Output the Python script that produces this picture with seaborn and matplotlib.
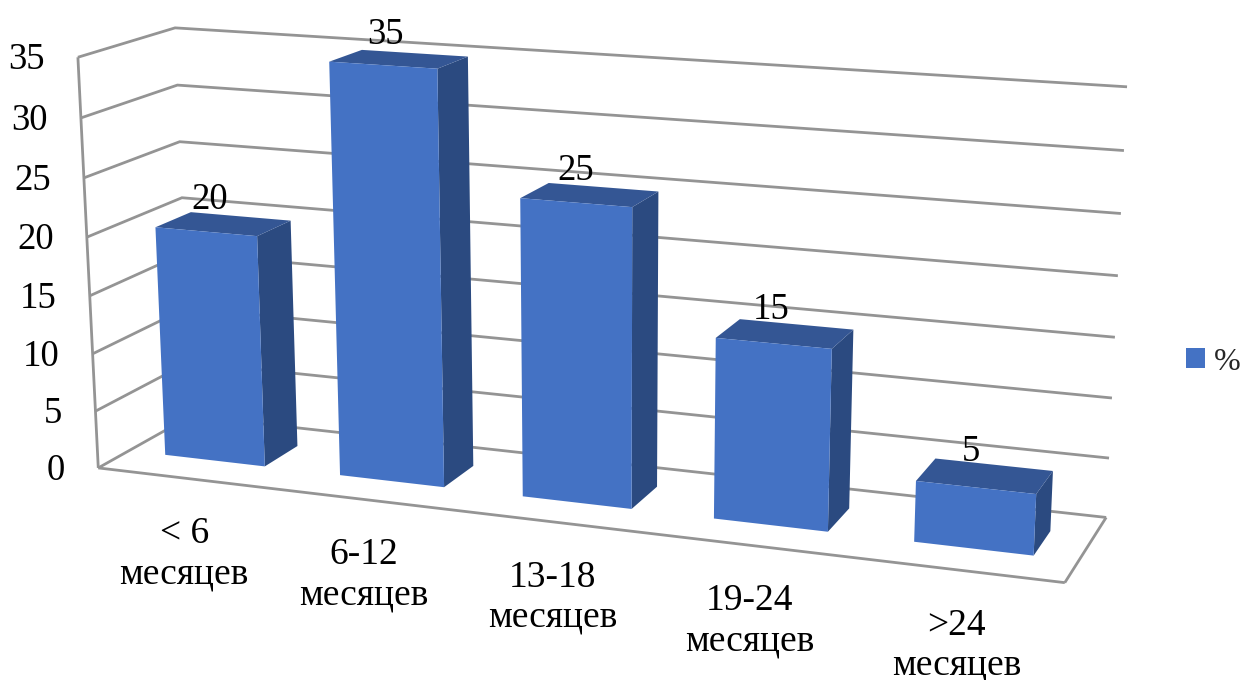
import numpy as np
import pandas as pd
import matplotlib
matplotlib.use("Agg")
import matplotlib.pyplot as plt
from matplotlib.patches import Polygon
from matplotlib.transforms import Transform
import seaborn as sns

# Chart data
categories = ["< 6\nмесяцев", "6-12\nмесяцев", "13-18\nмесяцев", "19-24\nмесяцев", ">24\nмесяцев"]
percent = [20, 35, 25, 15, 5]
y_ticks = [0, 5, 10, 15, 20, 25, 30, 35]
series_name = "%"

# Colours of the three visible bar faces and of the chart frame
FRONT, TOP, SIDE = "#4472C4", "#345694", "#2B4A80"
FRAME = "#949494"

W, H = 1243, 680
Y_MAX = y_ticks[-1]
U0, U1 = -0.5, len(categories) - 0.5
BAR_WIDTH = 0.575
DEPTH_FRONT, DEPTH_BACK = 0.32, 0.70

# Camera: corners of the plot box (category, value, depth) and where they land in the canvas
box_corners = [
    (U0, 0, 0), (U0, Y_MAX, 0), (U1, 0, 0),
    (U0, 0, 1), (U0, Y_MAX, 1), (U1, 0, 1), (U1, Y_MAX, 1),
]
canvas_corners = [
    (98, 466), (78, 58), (1065, 584),
    (191, 418), (175, 27), (1106, 516), (1127, 87),
]


def fit_camera(world, image):
    rows, rhs = [], []
    for (x, y, z), (px, py) in zip(world, image):
        rows.append([x, y, z, 1, 0, 0, 0, 0, -px * x, -px * y, -px * z])
        rows.append([0, 0, 0, 0, x, y, z, 1, -py * x, -py * y, -py * z])
        rhs += [px, py]
    sol = np.linalg.lstsq(np.array(rows, float), np.array(rhs, float), rcond=None)[0]
    return np.append(sol, 1.0).reshape(3, 4)


CAMERA = fit_camera(box_corners, canvas_corners)


def project(u, v, plane_depth):
    p = CAMERA @ np.array([u, v, plane_depth, 1.0])
    return p[0] / p[2], p[1] / p[2]


class DepthPlane(Transform):
    """Sends (category, value) on a plane of constant depth to canvas coordinates."""
    input_dims = output_dims = 2
    is_separable = False
    has_inverse = False

    def __init__(self, plane_depth):
        super().__init__()
        self.plane_depth = plane_depth

    def transform_non_affine(self, values):
        values = np.asarray(values, float)
        world = np.column_stack([values, np.full(len(values), self.plane_depth), np.ones(len(values))])
        p = world @ CAMERA.T
        return p[:, :2] / p[:, 2:3]


sns.set_theme(style="white")
plt.rcParams["font.family"] = ["Liberation Serif", "DejaVu Serif"]

fig, ax = plt.subplots(figsize=(W / 100, H / 100), dpi=100)
ax.set_position([0, 0, 1, 1])

df = pd.DataFrame({"category": categories, "percent": percent})
sns.barplot(data=df, x="category", y="percent", color=FRONT, saturation=1,
            width=BAR_WIDTH, label=series_name, ax=ax, zorder=3, errorbar=None)

ax.set_xlim(0, W)
ax.set_ylim(H, 0)
ax.set_axis_off()

# Front faces come from seaborn; side and top faces share each bar's geometry
front_plane = DepthPlane(DEPTH_FRONT) + ax.transData
for patch in list(ax.patches):
    u0, u1 = patch.get_x(), patch.get_x() + patch.get_width()
    v = patch.get_height()
    patch.set_transform(front_plane)
    patch.set_edgecolor("none")
    side = [project(u1, 0, DEPTH_FRONT), project(u1, 0, DEPTH_BACK),
            project(u1, v, DEPTH_BACK), project(u1, v, DEPTH_FRONT)]
    top = [project(u0, v, DEPTH_FRONT), project(u1, v, DEPTH_FRONT),
           project(u1, v, DEPTH_BACK), project(u0, v, DEPTH_BACK)]
    ax.add_patch(Polygon(side, closed=True, fc=SIDE, ec="none", zorder=2.9))
    ax.add_patch(Polygon(top, closed=True, fc=TOP, ec="none", zorder=2.9))

# Gridlines run along the left wall and then the back wall
line_style = dict(color=FRAME, lw=2.0, solid_joinstyle="miter", solid_capstyle="butt", zorder=1)
for v in y_ticks:
    pts = np.array([project(U0, v, 0), project(U0, v, 1), project(U1, v, 1)])
    ax.plot(pts[:, 0], pts[:, 1], **line_style)
    px, py = project(U0, v, 0)
    ax.text(px - 33, py + 2.5, str(v), ha="right", va="center", fontsize=26.5, color="black")

# Vertical axis edge and the open sides of the floor
for a, b in [((U0, 0, 0), (U0, Y_MAX, 0)), ((U0, 0, 0), (U1, 0, 0)), ((U1, 0, 0), (U1, 0, 1))]:
    pts = np.array([project(*a), project(*b)])
    ax.plot(pts[:, 0], pts[:, 1], **line_style)

# Value labels above each bar, category labels below the floor edge
mid_depth = (DEPTH_FRONT + DEPTH_BACK) / 2
for i, (name, value) in enumerate(zip(categories, percent)):
    px, py = project(i, value, mid_depth)
    ax.text(px - 14, py - 24, str(value), ha="center", va="center", fontsize=26.5,
            color="black", zorder=4)
    px, py = project(i, 0, 0)
    ax.text(px - 1, py + 75.5, name, ha="center", va="center", fontsize=27,
            color="black", linespacing=1.22, zorder=4)

ax.legend(loc="center left", bbox_to_anchor=(1186, 362), bbox_transform=ax.transData,
          frameon=False, fontsize=23, handlelength=0.6, handleheight=0.6,
          handletextpad=0.28, borderpad=0, borderaxespad=0)

fig.savefig("out.png", dpi=100, facecolor="white")
